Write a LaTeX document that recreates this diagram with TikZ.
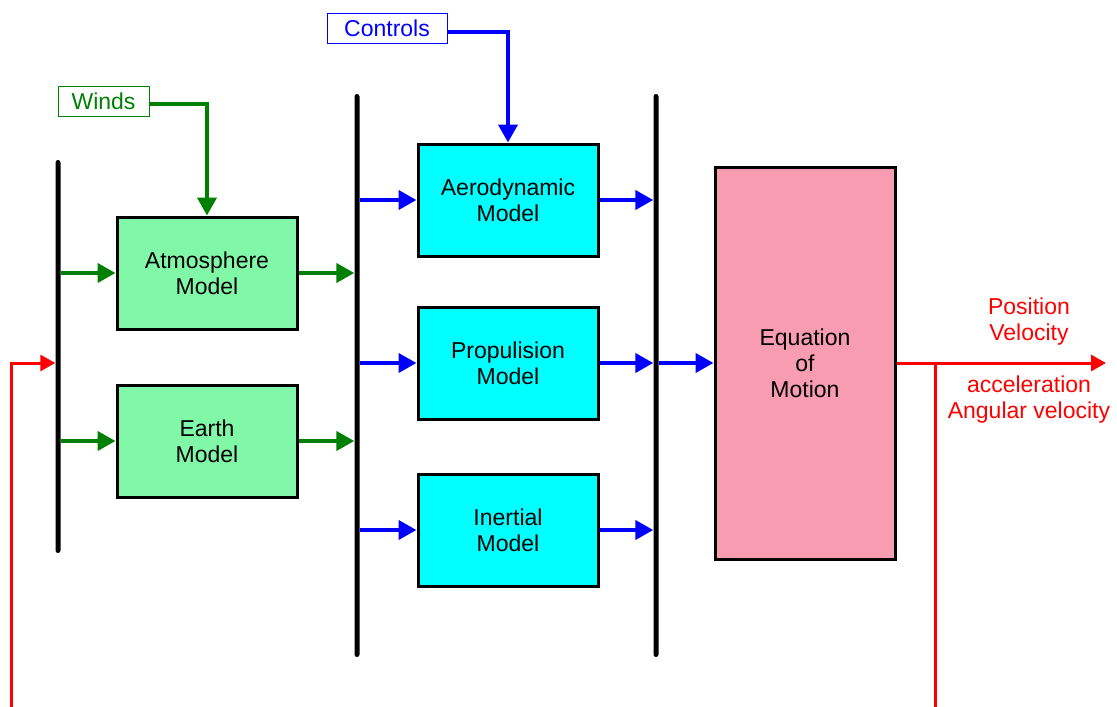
\documentclass[tikz,border=0pt]{standalone}
\usepackage{fontspec}
\setmainfont{Liberation Sans}
\usetikzlibrary{arrows.meta}
\definecolor{dgreen}{RGB}{0,128,0}
\definecolor{lgreen}{RGB}{128,248,168}
\definecolor{pink}{RGB}{248,156,178}
\definecolor{cyanb}{RGB}{0,255,255}
\begin{document}
\begin{tikzpicture}[x=1pt,y=-1pt,
  every node/.style={font=\fontsize{23}{26}\selectfont, align=center, inner sep=0pt},
  blk/.style={draw=black, line width=3pt, minimum width=180pt, minimum height=112pt},
  envbox/.style={blk, fill=lgreen},
  modbox/.style={blk, fill=cyanb},
  bar/.style={fill=black, rounded corners=2.5pt, minimum width=5pt},
  lab/.style={draw, line width=1pt, minimum height=30pt, inner xsep=8pt},
  garr/.style={draw=dgreen, line width=4pt, -{Triangle[length=18pt,width=19pt]}},
  barr/.style={draw=blue, line width=4pt, -{Triangle[length=18pt,width=19pt]}},
  rarr/.style={draw=red, line width=3pt, -{Triangle[length=15pt,width=16pt]}},
  rline/.style={draw=red, line width=3pt}]
\useasboundingbox (0,0) rectangle (1117,707);
% bars
\node[bar, minimum height=393pt] (b1) at (58,356.5) {};
\node[bar, minimum height=563pt] (b2) at (357,375.5) {};
\node[bar, minimum height=563pt] (b3) at (656,375.5) {};
% boxes
\node[envbox] (atm) at (207,273) {Atmosphere\\Model};
\node[envbox] (earth) at (207,441) {Earth\\Model};
\node[modbox] (aero) at (508,200) {Aerodynamic\\Model};
\node[modbox] (prop) at (508,363) {Propulision\\Model};
\node[modbox] (iner) at (508,530) {Inertial\\Model};
\node[blk, fill=pink, minimum height=392pt] (eom) at (805,363) {Equation\\of\\Motion};
% labels
\node[lab, draw=dgreen, text=dgreen, minimum width=91pt] (winds) at (103.5,101.5) {Winds};
\node[lab, draw=blue, text=blue, minimum width=120pt] (ctrl) at (387,28) {Controls};
\node[text=red] (pv) at (1029,322) {Position\\Velocity};
\node[text=red] (aav) at (1029,400) {acceleration\\Angular velocity};
% green connectors
\draw[garr] (winds.east |- 0,104) -| (atm.north);
\draw[garr] (b1.east |- atm) -- (atm.west);
\draw[garr] (b1.east |- earth) -- (earth.west);
\draw[garr] (atm.east) -- (b2.west |- atm);
\draw[garr] (earth.east) -- (b2.west |- earth);
% blue connectors
\draw[barr] (ctrl.east |- 0,32) -| (aero.north);
\draw[barr] (b2.east |- aero) -- (aero.west);
\draw[barr] (b2.east |- prop) -- (prop.west);
\draw[barr] (b2.east |- iner) -- (iner.west);
\draw[barr] (aero.east) -- (b3.west |- aero);
\draw[barr] (prop.east) -- (b3.west |- prop);
\draw[barr] (iner.east) -- (b3.west |- iner);
\draw[barr] (b3.east |- eom) -- (eom.west);
% red connectors
\coordinate (out) at (1106,363);
\coordinate (fb) at (935,363);
\coordinate (fbend) at (935,707);
\coordinate (inend) at (11,707);
\draw[rarr] (eom.east) -- (out);
\draw[rline] (fb) -- (fbend);
\draw[rarr] (inend) |- (b1.west |- eom);
\end{tikzpicture}
\end{document}
